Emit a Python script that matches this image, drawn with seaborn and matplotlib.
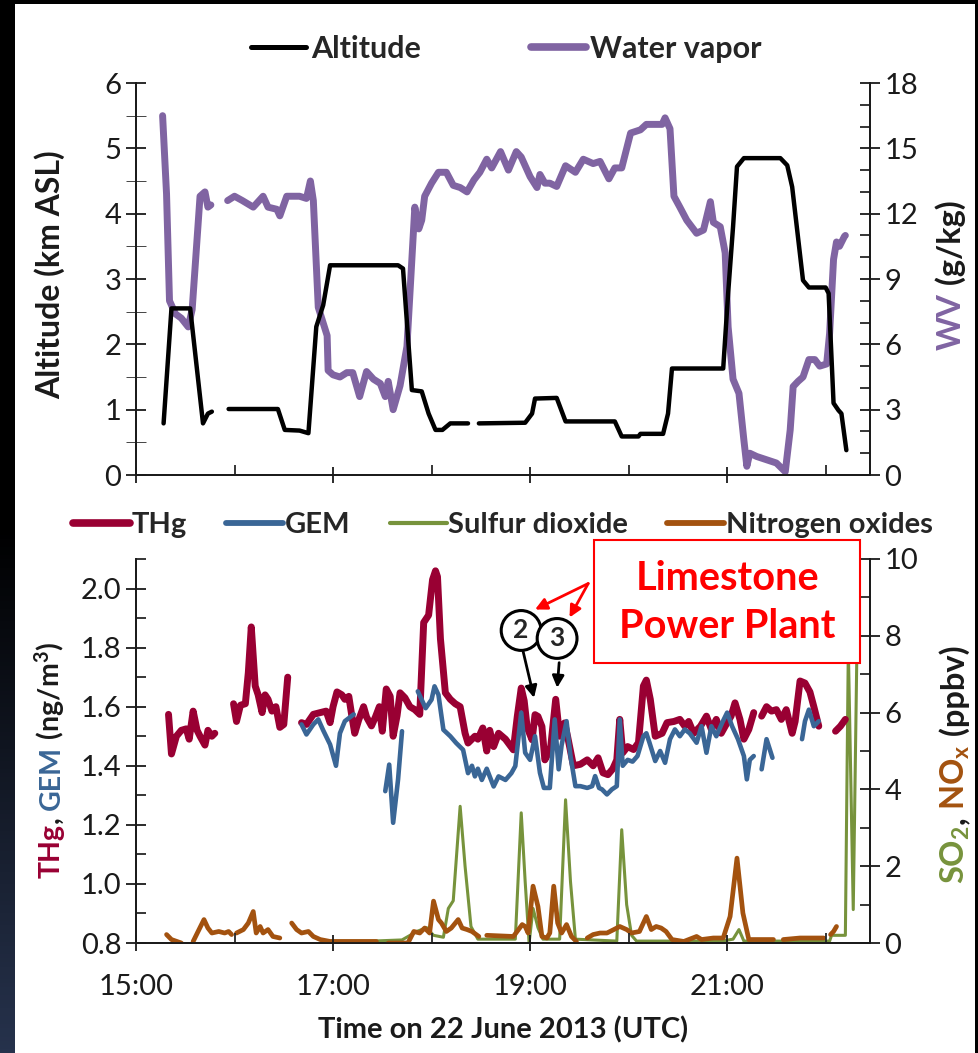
import numpy as np
import pandas as pd
import matplotlib
matplotlib.use("Agg")
import matplotlib.pyplot as plt
import seaborn as sns
from matplotlib.lines import Line2D
from matplotlib.patches import Rectangle
from matplotlib.ticker import MultipleLocator, FixedLocator, FuncFormatter
from matplotlib.transforms import IdentityTransform
from matplotlib.colors import LinearSegmentedColormap

nan = np.nan

# ---------------- data (time in decimal hours UTC) ----------------
alt_t = [15.28, 15.36, 15.55, 15.68, 15.73, 15.77, nan,
         15.94, 16.44, 16.51, 16.66, 16.75, 16.83, 16.90, 16.97, 17.66, 17.71, 17.80, 17.90,
         17.97, 18.04, 18.11, 18.19, 18.37, nan,
         18.48, 18.95, 19.02, 19.05, 19.27, 19.36, 19.86, 19.93, 20.10, 20.12, 20.35, 20.40,
         20.44, 20.96, 21.01, 21.06, 21.10, 21.17, 21.54, 21.61, 21.66, 21.77, 21.83, 22.00,
         22.03, 22.08, 22.13, 22.16, 22.21]
alt_km = [0.79, 2.55, 2.55, 0.79, 0.94, 0.97, nan,
          1.01, 1.01, 0.69, 0.68, 0.64, 2.27, 2.60, 3.21, 3.21, 3.16, 1.30, 1.28,
          0.94, 0.69, 0.69, 0.79, 0.79, nan,
          0.79, 0.80, 0.94, 1.17, 1.18, 0.82, 0.82, 0.59, 0.59, 0.63, 0.63, 0.94,
          1.63, 1.63, 2.78, 3.80, 4.72, 4.85, 4.85, 4.74, 4.41, 2.98, 2.87, 2.87,
          2.78, 1.10, 0.99, 0.94, 0.38]

wv_t = [15.27, 15.31, 15.34, 15.40, 15.46, 15.53, 15.57, 15.65, 15.70, 15.73, 15.76, nan,
        15.93, 16.00, 16.08, 16.19, 16.29, 16.34, 16.43, 16.46, 16.53, 16.66, 16.73, 16.77,
        16.80, 16.85, 16.94, 16.95, 17.00, 17.07, 17.14, 17.20, 17.27, 17.34, 17.41, 17.48,
        17.53, 17.56, 17.61, 17.68, 17.75, 17.80, 17.83, 17.87, 17.90, 17.93, 18.00, 18.07,
        18.15, 18.22, 18.29, 18.36, 18.43, 18.49, 18.56, 18.61, 18.70, 18.78, 18.86, 18.91,
        19.00, 19.07, 19.10, 19.15, 19.20, 19.27, 19.36, 19.46, 19.54, 19.64, 19.71, 19.80,
        19.86, 19.93, 20.02, 20.12, 20.18, 20.34, 20.37, 20.42, 20.46, 20.52, 20.59, 20.69,
        20.76, 20.83, 20.86, 20.93, 20.98, 21.01, 21.06, 21.12, 21.17, 21.20, 21.23, 21.30,
        21.40, 21.50, 21.59, 21.64, 21.67, 21.72, 21.77, 21.83, 21.89, 21.94, 22.01, 22.04,
        22.08, 22.11, 22.14, 22.19, 22.20]
wv_gkg = [16.5, 12.9, 8.0, 7.4, 7.2, 6.8, 7.6, 12.8, 13.0, 12.3, 12.4, nan,
          12.6, 12.8, 12.6, 12.3, 12.8, 12.3, 12.2, 11.9, 12.8, 12.8, 12.7, 13.5,
          12.6, 7.7, 6.4, 4.8, 4.6, 4.5, 4.7, 4.7, 3.6, 4.75, 4.4, 4.2,
          3.6, 4.3, 3.0, 4.1, 5.9, 9.9, 12.3, 11.3, 11.7, 12.8, 13.4, 13.9,
          13.9, 13.3, 13.2, 13.0, 13.55, 13.9, 14.5, 14.1, 14.85, 14.0, 14.85, 14.6,
          13.7, 13.2, 13.8, 13.4, 13.4, 13.25, 14.2, 13.9, 14.5, 14.3, 14.4, 13.6,
          14.1, 14.1, 15.7, 15.85, 16.1, 16.1, 16.4, 15.9, 12.8, 12.3, 11.7, 11.1,
          11.25, 12.55, 11.6, 11.4, 10.2, 6.8, 4.4, 3.75, 1.6, 0.4, 1.0, 0.85,
          0.7, 0.55, 0.15, 2.07, 4.06, 4.3, 4.5, 5.3, 5.3, 5.0, 5.1, 6.5,
          9.9, 10.7, 10.5, 10.95, 11.0]

thg_t = [15.33, 15.36, 15.41, 15.46, 15.51, 15.54, 15.58, 15.62, 15.65, 15.70, 15.73, 15.77, 15.80, nan,
         15.99, 16.02, 16.06, 16.11, 16.14, 16.17, 16.21, 16.24, 16.28, 16.31, 16.34, 16.38, 16.42,
         16.46, 16.50, 16.54, nan,
         16.68, 16.73, 16.80, 16.87, 16.93, 16.97, 17.00, 17.04, 17.09, 17.12, 17.16, 17.19, 17.22,
         17.26, 17.31, 17.34, 17.39, 17.43, 17.47, 17.50, 17.54, 17.58, 17.61, 17.65, 17.68, 17.73,
         17.78, 17.83, 17.88, 17.92, 17.97, 18.01, 18.04, 18.06, 18.09, 18.14, 18.19, 18.24, 18.29,
         18.34, 18.37, 18.44, 18.47, 18.52, 18.56, 18.59, 18.63, 18.68, 18.75, 18.83, 18.87, 18.91,
         18.94, 18.97, 19.02, 19.05, 19.08, 19.12, 19.15, 19.18, 19.21, 19.26, 19.30, 19.35, 19.38,
         19.44, 19.51, 19.58, 19.64, 19.69, 19.74, 19.79, 19.84, 19.88, 19.91, 19.94, 19.99, 20.05,
         20.10, 20.15, 20.18, 20.22, 20.27, 20.34, 20.39, 20.46, 20.52, 20.57, 20.61, 20.66, 20.73,
         20.79, 20.84, 20.89, 20.94, 20.99, 21.04, 21.08, 21.13, 21.17, 21.22, 21.27, nan,
         21.35, 21.40, 21.45, 21.50, 21.55, 21.60, 21.66, 21.69, 21.74, 21.79, 21.84, 21.88, 21.93, nan,
         22.10, 22.15, 22.20]
thg_ng = [1.574, 1.44, 1.50, 1.52, 1.525, 1.49, 1.585, 1.52, 1.50, 1.47, 1.52, 1.50, 1.51, nan,
          1.61, 1.55, 1.605, 1.61, 1.715, 1.87, 1.67, 1.64, 1.58, 1.64, 1.625, 1.585, 1.60,
          1.53, 1.54, 1.70, nan,
          1.546, 1.54, 1.574, 1.58, 1.585, 1.546, 1.60, 1.65, 1.64, 1.625, 1.635, 1.57, 1.51,
          1.555, 1.60, 1.565, 1.535, 1.565, 1.60, 1.517, 1.66, 1.635, 1.50, 1.57, 1.647, 1.63,
          1.60, 1.59, 1.574, 1.885, 1.91, 2.03, 2.06, 2.04, 1.83, 1.647, 1.625, 1.61, 1.60,
          1.51, 1.477, 1.50, 1.49, 1.528, 1.45, 1.52, 1.465, 1.51, 1.49, 1.454, 1.567, 1.663,
          1.62, 1.53, 1.488, 1.573, 1.567, 1.533, 1.42, 1.44, 1.466, 1.625, 1.50, 1.545, 1.50,
          1.40, 1.405, 1.42, 1.40, 1.427, 1.376, 1.37, 1.39, 1.42, 1.557, 1.444, 1.465, 1.455,
          1.478, 1.67, 1.69, 1.625, 1.50, 1.51, 1.546, 1.55, 1.557, 1.534, 1.55, 1.51, 1.534,
          1.568, 1.523, 1.557, 1.51, 1.54, 1.568, 1.613, 1.557, 1.49, 1.523, 1.58, nan,
          1.568, 1.60, 1.585, 1.59, 1.557, 1.59, 1.51, 1.55, 1.687, 1.68, 1.65, 1.60, 1.534, nan,
          1.517, 1.534, 1.557]

gem_t = [16.68, 16.73, 16.80, 16.85, 16.90, 16.97, 17.03, 17.07, 17.12, 17.21, nan,
         17.53, 17.57, 17.61, 17.66, 17.70, nan,
         17.86, 17.94, 18.00, 18.03, 18.07, 18.12, 18.19, 18.25, 18.32, 18.37, 18.41, 18.44, 18.47,
         18.51, 18.56, 18.59, 18.63, 18.68, 18.75, 18.81, 18.85, 18.91, 18.95, 19.00, 19.05, 19.10,
         19.14, 19.20, 19.25, 19.29, 19.32, 19.37, 19.41, 19.46, 19.51, 19.58, 19.63, 19.66, 19.70,
         19.73, 19.78, 19.83, 19.88, 19.91, 19.94, 19.99, 20.04, 20.09, 20.15, 20.18, 20.21, 20.27,
         20.32, 20.37, 20.42, 20.47, 20.52, 20.57, 20.62, 20.69, 20.74, 20.79, 20.84, 20.89, 20.95,
         21.00, 21.05, 21.11, 21.17, 21.20, 21.23, 21.27, nan,
         21.35, 21.40, 21.46, nan,
         21.76, 21.79, 21.83, 21.88, 21.93]
gem_ng = [1.54, 1.506, 1.54, 1.557, 1.52, 1.472, 1.40, 1.51, 1.551, 1.574, nan,
          1.314, 1.404, 1.207, 1.354, 1.517, nan,
          1.652, 1.595, 1.624, 1.669, 1.64, 1.522, 1.50, 1.477, 1.454, 1.375, 1.40, 1.364, 1.39,
          1.352, 1.39, 1.364, 1.33, 1.364, 1.352, 1.375, 1.399, 1.58, 1.444, 1.42, 1.50, 1.376,
          1.325, 1.325, 1.557, 1.388, 1.47, 1.551, 1.433, 1.331, 1.331, 1.325, 1.331, 1.365, 1.325,
          1.32, 1.303, 1.32, 1.331, 1.557, 1.40, 1.42, 1.414, 1.433, 1.50, 1.51, 1.48, 1.416,
          1.45, 1.41, 1.49, 1.523, 1.50, 1.523, 1.51, 1.478, 1.534, 1.444, 1.534, 1.50, 1.546,
          1.58, 1.534, 1.49, 1.433, 1.354, 1.42, 1.433, nan,
          1.388, 1.49, 1.427, nan,
          1.49, 1.551, 1.59, 1.534, 1.551]

so2_t = [16.95, 17.40, 17.70, 17.85, 17.95, 18.02, 18.12, 18.17, 18.22, 18.29, 18.34, 18.40,
         18.47, 18.85, 18.91, 18.95, 18.99, 19.03, 19.08, 19.13, 19.30, 19.36, 19.41, 19.46,
         19.88, 19.93, 19.98, 20.03, 20.08, 20.95, 21.06, 21.12, 21.17, 22.04, 22.06, 22.20,
         22.23, 22.28, 22.33]
so2_ppbv = [0.05, 0.05, 0.08, 0.3, 0.4, 0.2, 0.15, 0.9, 1.1, 3.56, 2.0, 0.43,
            0.1, 0.1, 3.39, 1.6, 0.0, 0.9, 0.4, 0.1, 0.1, 3.73, 1.6, 0.1,
            0.05, 2.95, 1.0, 0.2, 0.05, 0.05, 0.1, 0.35, 0.05, 0.05, 0.2, 0.2,
            7.68, 0.87, 9.98]

nox_t = [15.31, 15.36, 15.46, nan,
         15.58, 15.63, 15.69, 15.73, 15.77, 15.84, 15.90, 15.94, 15.97, nan,
         16.02, 16.09, 16.14, 16.19, 16.22, 16.26, 16.29, 16.34, 16.39, 16.46, nan,
         16.58, 16.63, 16.68, 16.75, 16.80, 16.87, 16.97, 17.44, nan,
         17.56, 17.76, 17.82, 17.88, 17.93, 17.98, 18.02, 18.07, 18.10, 18.15, 18.20, 18.27, 18.31,
         18.36, 18.41, 18.48, nan,
         18.56, 18.83, 18.92, 18.95, 18.98, 19.03, 19.08, 19.12, 19.17, 19.20, 19.24, 19.28, 19.32,
         19.37, 19.42, 19.47, nan,
         19.58, 19.64, 19.71, 19.78, 19.85, 19.91, 19.98, 20.03, 20.11, 20.18, 20.23, 20.28, 20.33,
         20.38, 20.44, 20.56, 20.69, 20.74, 20.86, 20.96, 21.03, 21.10, 21.16, 21.22, 21.47, nan,
         21.57, 21.74, 21.88, 21.98, nan,
         22.05, 22.08, 22.11]
nox_ppbv = [0.22, 0.09, 0.0, nan,
            0.04, 0.3, 0.61, 0.39, 0.26, 0.3, 0.26, 0.3, 0.22, nan,
            0.26, 0.35, 0.52, 0.82, 0.26, 0.43, 0.26, 0.35, 0.17, 0.13, nan,
            0.52, 0.35, 0.26, 0.3, 0.17, 0.09, 0.04, 0.04, nan,
            0.0, 0.0, 0.3, 0.26, 0.39, 0.26, 1.09, 0.61, 0.52, 0.3, 0.39, 0.61, 0.39,
            0.35, 0.3, 0.17, nan,
            0.2, 0.17, 0.48, 0.43, 0.26, 1.48, 0.95, 0.17, 0.13, 0.26, 1.48, 0.52, 0.26,
            0.48, 0.17, 0.04, nan,
            0.13, 0.22, 0.26, 0.26, 0.35, 0.43, 0.35, 0.26, 0.3, 0.69, 0.35, 0.43, 0.39,
            0.3, 0.09, 0.04, 0.17, 0.09, 0.13, 0.13, 0.69, 2.21, 0.78, 0.09, 0.09, nan,
            0.09, 0.13, 0.13, 0.13, nan,
            0.22, 0.3, 0.43]

hour_ticks = [15, 17, 19, 21]
hour_minor = [16, 18, 20, 22]
hour_labels = ["15:00", "17:00", "19:00", "21:00"]

# ---------------- style ----------------
sns.set_style("ticks")
plt.rcParams["font.family"] = ["Lato", "DejaVu Sans"]
plt.rcParams["mathtext.default"] = "regular"

C_ALT = "black"
C_WV = "#8064A2"
C_THG = "#990033"
C_GEM = "#3A6696"
C_SO2 = "#77933C"
C_NOX = "#A3520F"
TXT = "#1a1a1a"

W, H = 979, 1053
fig = plt.figure(figsize=(W / 100, H / 100), dpi=100, facecolor="black")

# white slide panel + dark gradient strip on the left
fig.patches.append(Rectangle((15 / W, 0), 960 / W, 1 - 4 / H, transform=fig.transFigure,
                             facecolor="white", edgecolor="none", zorder=-5))
gax = fig.add_axes([0, 0, 15 / W, 1], zorder=-4)
grad = np.linspace(0, 1, 256).reshape(-1, 1)
cm = LinearSegmentedColormap.from_list("g", ["#000000", "#000000", "#26324c"])
gax.imshow(grad, aspect="auto", cmap=cm, extent=[0, 1, 0, 1], origin="upper")
gax.axis("off")

XMIN, XMAX = 15.0, 22.45
FS = 21      # tick labels
LW_AX = 1.3


def seg_df(t, v):
    t = np.asarray(t, float)
    v = np.asarray(v, float)
    seg = np.cumsum(np.isnan(t))
    return pd.DataFrame({"t": t, "v": v, "seg": seg}).dropna()


def draw(ax, t, v, color, lw, z=2):
    sns.lineplot(data=seg_df(t, v), x="t", y="v", units="seg", estimator=None, sort=False,
                 color=color, linewidth=lw, ax=ax, legend=False, zorder=z,
                 solid_capstyle="round", solid_joinstyle="round")


def style_axis(ax):
    ax.spines["top"].set_visible(False)
    for s in ["left", "right", "bottom"]:
        ax.spines[s].set_color(TXT)
        ax.spines[s].set_linewidth(LW_AX)
    ax.tick_params(colors=TXT, labelsize=FS, width=LW_AX)
    ax.set_xlabel("")
    ax.set_ylabel("")


# ---------------- top panel ----------------
ax1 = fig.add_axes([136 / W, 1 - 475 / H, 734 / W, 392 / H])
ax1b = ax1.twinx()
draw(ax1, alt_t, alt_km, C_ALT, 3.2, 3)
draw(ax1b, wv_t, wv_gkg, C_WV, 5.0, 2)
ax1.set_zorder(3)
ax1b.set_zorder(2)
ax1.patch.set_visible(False)
ax1.set_xlim(XMIN, XMAX)
ax1.set_ylim(0, 6)
ax1b.set_ylim(0, 18)
for a in (ax1, ax1b):
    style_axis(a)
ax1.yaxis.set_major_locator(MultipleLocator(1))
ax1.yaxis.set_minor_locator(MultipleLocator(0.5))
ax1.tick_params(axis="y", which="both", direction="inout", length=14)
ax1b.yaxis.set_major_locator(MultipleLocator(3))
ax1b.yaxis.set_minor_locator(MultipleLocator(1))
ax1b.tick_params(axis="y", which="major", direction="inout", length=14)
ax1b.tick_params(axis="y", which="minor", direction="in", length=7, width=LW_AX)
ax1.xaxis.set_major_locator(FixedLocator(hour_ticks))
ax1.xaxis.set_minor_locator(FixedLocator(hour_minor))
ax1.tick_params(axis="x", which="major", direction="inout", length=12, labelbottom=False)
ax1.tick_params(axis="x", which="minor", direction="in", length=7, width=LW_AX)
ax1.yaxis.set_major_formatter(FuncFormatter(lambda v, p: f"{v:.0f}"))
ax1b.yaxis.set_major_formatter(FuncFormatter(lambda v, p: f"{v:.0f}"))

h1 = [Line2D([], [], color=C_ALT, lw=3.6), Line2D([], [], color=C_WV, lw=5.5)]
ax1.legend(h1, ["Altitude", "Water vapor"], loc="lower center", bbox_to_anchor=(0.505, 1.02),
           ncol=2, frameon=False, prop={"weight": "bold", "size": 22},
           handlelength=1.8, handletextpad=0.15, columnspacing=3.6, borderaxespad=0.0)

# ---------------- bottom panel ----------------
ax2 = fig.add_axes([136 / W, 1 - 943 / H, 734 / W, 384 / H])
ax2b = ax2.twinx()
draw(ax2b, so2_t, so2_ppbv, C_SO2, 2.2, 2)
draw(ax2b, nox_t, nox_ppbv, C_NOX, 3.4, 3)
draw(ax2, thg_t, thg_ng, C_THG, 5.0, 4)
draw(ax2, gem_t, gem_ng, C_GEM, 3.3, 5)
ax2.set_zorder(3)
ax2b.set_zorder(2)
ax2.patch.set_visible(False)
ax2.set_xlim(XMIN, XMAX)
ax2.set_ylim(0.8, 2.1)
ax2b.set_ylim(0, 10)
for a in (ax2, ax2b):
    style_axis(a)
ax2.yaxis.set_major_locator(FixedLocator([0.8, 1.0, 1.2, 1.4, 1.6, 1.8, 2.0]))
ax2.yaxis.set_minor_locator(FixedLocator([0.9, 1.1, 1.3, 1.5, 1.7, 1.9, 2.1]))
ax2.yaxis.set_major_formatter(FuncFormatter(lambda v, p: f"{v:.1f}"))
ax2.tick_params(axis="y", which="major", direction="inout", length=14)
ax2.tick_params(axis="y", which="minor", direction="in", length=7, width=LW_AX)
ax2b.yaxis.set_major_locator(MultipleLocator(2))
ax2b.yaxis.set_minor_locator(MultipleLocator(1))
ax2b.yaxis.set_major_formatter(FuncFormatter(lambda v, p: f"{v:.0f}"))
ax2b.tick_params(axis="y", which="major", direction="inout", length=14)
ax2b.tick_params(axis="y", which="minor", direction="in", length=7, width=LW_AX)
ax2.xaxis.set_major_locator(FixedLocator(hour_ticks))
ax2.xaxis.set_minor_locator(FixedLocator(hour_minor))
ax2.set_xticklabels(hour_labels)
ax2.tick_params(axis="x", which="major", direction="inout", length=12, pad=16)
ax2.tick_params(axis="x", which="minor", direction="in", length=7, width=LW_AX)
ax2.set_xlabel("Time on 22 June 2013 (UTC)", fontsize=21, fontweight="bold", color=TXT,
               labelpad=12)

h2 = [Line2D([], [], color=C_THG, lw=5.5), Line2D([], [], color=C_GEM, lw=4.2),
      Line2D([], [], color=C_SO2, lw=3), Line2D([], [], color=C_NOX, lw=4.2)]
ax2.legend(h2, ["THg", "GEM", "Sulfur dioxide", "Nitrogen oxides"], loc="lower center",
           bbox_to_anchor=(0.5, 1.025), ncol=4, frameon=False,
           prop={"weight": "bold", "size": 21}, handlelength=1.95, handletextpad=0.05,
           columnspacing=1.35, borderaxespad=0.0)

# ---------------- annotation ----------------
ax2.add_patch(Rectangle((19.65, 1.749), 2.70, 0.417, facecolor="white", edgecolor="red",
                        linewidth=1.5, clip_on=False, zorder=10))
ax2.text(21.0, 1.953, "Limestone\nPower Plant", color="red", fontsize=28.5, fontweight="bold",
         ha="center", va="center", linespacing=1.35, zorder=11, clip_on=False)
for end in [(19.05, 1.929), (19.40, 1.902)]:
    ax2.annotate("", xy=end, xytext=(19.59, 2.017),
                 arrowprops=dict(arrowstyle="-|>,head_length=0.7,head_width=0.35", color="red",
                                 lw=2.0, shrinkA=0, shrinkB=0), zorder=11, annotation_clip=False)
for (sx, sy), (ex, ey) in [((18.93, 1.786), (19.04, 1.63)), ((19.295, 1.749), (19.275, 1.664))]:
    ax2.annotate("", xy=(ex, ey), xytext=(sx, sy),
                 arrowprops=dict(arrowstyle="-|>,head_length=0.7,head_width=0.35", color="black",
                                 lw=2.0, shrinkA=0, shrinkB=0), zorder=11, annotation_clip=False)
for num, (cx, cy) in [("2", (18.909, 1.858)), ("3", (19.274, 1.831))]:
    ax2.text(cx, cy, num, fontsize=19, fontweight="bold", ha="center", va="center", zorder=12,
             bbox=dict(boxstyle="circle,pad=0.3", facecolor="white", edgecolor="black", lw=2.2))

# ---------------- multi-coloured axis labels (read bottom to top) ----------------
fig.canvas.draw()
renderer = fig.canvas.get_renderer()


def piece_label(x_px, yc_px, pieces, size):
    widths = []
    for s, c in pieces:
        t = fig.text(0, 0, s, fontsize=size, fontweight="bold")
        widths.append(t.get_window_extent(renderer).width)
        t.remove()
    pos = (H - yc_px) - sum(widths) / 2
    for (s, c), w in zip(pieces, widths):
        fig.text(x_px, pos, s, fontsize=size, fontweight="bold", color=c, rotation=90,
                 rotation_mode="anchor", ha="left", va="baseline", transform=IdentityTransform())
        pos += w


piece_label(60, 275, [("Altitude (km ASL)", TXT)], 23)
piece_label(961, 275, [("WV", C_WV), (" (g/kg)", TXT)], 23.5)
piece_label(60, 760, [("THg", C_THG), (", ", TXT), ("GEM", C_GEM), (" (ng/m$^3$)", TXT)], 20.5)
piece_label(965, 765, [("SO$_2$", C_SO2), (", ", TXT), ("NO$_x$", C_NOX), (" (ppbv)", TXT)], 23.5)

fig.savefig("out.png", dpi=100, facecolor="black")
